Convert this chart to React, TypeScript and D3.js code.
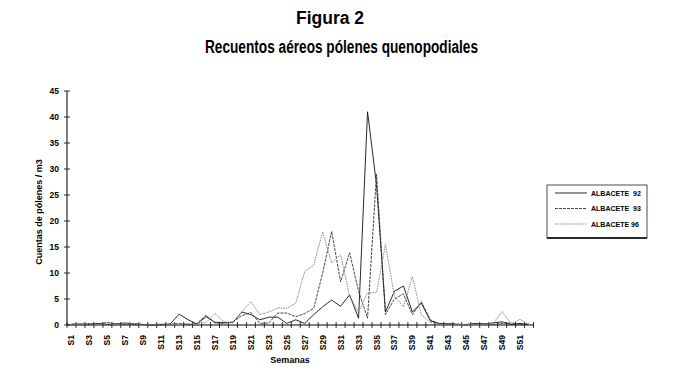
import React from "react";
import * as d3 from "d3";

const weeks: string[] = Array.from({ length: 52 }, (_, i) => `S${i + 1}`);

const albacete92: number[] = [
  0.1, 0.2, 0.1, 0.3, 0.1, 0.2, 0.4, 0.1, 0.1, 0.0,
  0.1, 0.2, 2.1, 1.0, 0.2, 1.6, 0.5, 0.5, 0.5, 2.5,
  2.0, 1.0, 1.5, 1.5, 0.3, 1.0, 0.3, 2.0, 3.5, 4.8,
  3.6, 5.8, 1.3, 41.0, 27.0, 2.5, 6.5, 7.5, 2.5, 4.2,
  0.8, 0.3, 0.2, 0.1, 0.1, 0.3, 0.2, 0.4, 0.6, 0.1,
  0.3, 0.1,
];
const albacete93: number[] = [
  0.2, 0.1, 0.3, 0.2, 0.5, 0.2, 0.1, 0.3, 0.1, 0.1,
  0.0, 0.1, 0.3, 0.1, 0.3, 1.9, 0.4, 0.3, 0.6, 1.8,
  2.4, 0.3, 0.4, 2.3, 2.3, 1.6, 2.2, 3.2, 10.0, 18.0,
  8.3, 13.9, 6.5, 1.3, 29.0, 2.0, 5.0, 6.0, 2.0, 4.5,
  1.0, 0.2, 0.3, 0.2, 0.0, 0.2, 0.3, 0.1, 0.3, 0.4,
  0.1, 0.2,
];
const albacete96: number[] = [
  0.0, 0.1, 0.2, 0.1, 0.2, 0.1, 0.3, 0.2, 0.0, 0.1,
  0.2, 0.1, 0.2, 0.3, 0.1, 0.5, 2.2, 0.6, 0.4, 2.6,
  4.5, 2.0, 2.5, 3.3, 3.2, 4.2, 10.3, 11.5, 17.9, 12.0,
  13.5, 5.5, 2.5, 6.2, 6.2, 15.5, 5.5, 3.5, 9.3, 2.0,
  0.5, 0.1, 0.2, 0.1, 0.1, 0.1, 0.2, 0.3, 2.6, 0.2,
  1.1, 0.1,
];

const seriesNames: string[] = ["ALBACETE  92", "ALBACETE  93", "ALBACETE 96"];
const yTicks: number[] = [0, 5, 10, 15, 20, 25, 30, 35, 40, 45];

const W = 686;
const H = 376;
const plotLeft = 67;
const plotRight = 533.5;
const plotTop = 91;
const plotBottom = 325;

const FONT = "'Liberation Sans', Arial, sans-serif";

export default function App() {
  const x = d3.scaleBand<string>().domain(weeks).range([plotLeft, plotRight]);
  const y = d3.scaleLinear().domain([0, 45]).range([plotBottom, plotTop]);
  const cx = (w: string) => (x(w) as number) + x.bandwidth() / 2;
  const line = d3
    .line<number>()
    .x((_, i) => cx(weeks[i]))
    .y((d) => y(d));

  const series = [
    { name: seriesNames[0], data: albacete92, stroke: "#111", dash: "none", width: 0.9 },
    { name: seriesNames[1], data: albacete93, stroke: "#333", dash: "3,1", width: 0.9 },
    { name: seriesNames[2], data: albacete96, stroke: "#888", dash: "1.5,1", width: 1 },
  ];

  const boundaries = weeks.map((w) => x(w) as number).concat([plotRight]);

  const legX = 547;
  const legY = 185;
  const legW = 100;
  const legH = 53;

  return (
    <svg
      width={W}
      height={H}
      style={{ position: "absolute", left: 0, top: 0, background: "#fff" }}
    >
      <rect x={0} y={0} width={W} height={H} fill="#fff" />
      <text
        x={296}
        y={24}
        textLength={68}
        lengthAdjust="spacingAndGlyphs"
        fontFamily={FONT}
        fontWeight="bold"
        fontSize={18}
      >
        Figura 2
      </text>
      <text
        x={205}
        y={53}
        textLength={273}
        lengthAdjust="spacingAndGlyphs"
        fontFamily={FONT}
        fontWeight="bold"
        fontSize={18}
      >
        Recuentos aéreos pólenes quenopodiales
      </text>

      {/* y axis */}
      <line x1={plotLeft} x2={plotLeft} y1={plotTop} y2={plotBottom} stroke="#000" strokeWidth={1} />
      {yTicks.map((t) => (
        <g key={t}>
          <line x1={plotLeft - 3} x2={plotLeft + 3} y1={y(t)} y2={y(t)} stroke="#000" strokeWidth={0.8} />
          <text
            x={plotLeft - 8}
            y={y(t) + 3}
            textAnchor="end"
            fontFamily={FONT}
            fontWeight="bold"
            fontSize={8.5}
          >
            {t}
          </text>
        </g>
      ))}
      <text
        transform={`translate(42,${(plotTop + plotBottom) / 2 + 4}) rotate(-90)`}
        textAnchor="middle"
        fontFamily={FONT}
        fontWeight="bold"
        fontSize={9}
      >
        Cuentas de pólenes / m3
      </text>

      {/* x axis */}
      <line x1={plotLeft} x2={plotRight} y1={plotBottom} y2={plotBottom} stroke="#000" strokeWidth={1} />
      {boundaries.map((b, i) => (
        <line key={i} x1={b} x2={b} y1={plotBottom - 3} y2={plotBottom + 3} stroke="#000" strokeWidth={0.8} />
      ))}
      {weeks.map((w, i) =>
        i % 2 === 0 ? (
          <text
            key={w}
            transform={`translate(${cx(w) + 3},${plotBottom + 10}) rotate(-90)`}
            textAnchor="end"
            fontFamily={FONT}
            fontWeight="bold"
            fontSize={8.5}
          >
            {w}
          </text>
        ) : null
      )}
      <text x={290} y={363} textAnchor="middle" fontFamily={FONT} fontWeight="bold" fontSize={9}>
        Semanas
      </text>

      {/* series */}
      {series.map((s) => (
        <path
          key={s.name}
          d={line(s.data) || ""}
          fill="none"
          stroke={s.stroke}
          strokeWidth={s.width}
          strokeDasharray={s.dash}
        />
      ))}

      {/* legend */}
      <rect x={legX} y={legY} width={legW} height={legH} fill="#fff" stroke="#000" strokeWidth={0.7} />
      <line x1={legX} x2={legX + legW} y1={legY + legH} y2={legY + legH} stroke="#000" strokeWidth={1.6} />
      {series.map((s, i) => (
        <g key={s.name}>
          <line
            x1={legX + 8}
            x2={legX + 40}
            y1={legY + 8 + i * 15.5}
            y2={legY + 8 + i * 15.5}
            stroke={s.stroke}
            strokeWidth={s.width}
            strokeDasharray={s.dash}
          />
          <text
            x={legX + 44}
            y={legY + 10.5 + i * 15.5}
            fontFamily={FONT}
            fontWeight="bold"
            fontSize={7}
            style={{ whiteSpace: "pre" }}
          >
            {s.name}
          </text>
        </g>
      ))}
    </svg>
  );
}
